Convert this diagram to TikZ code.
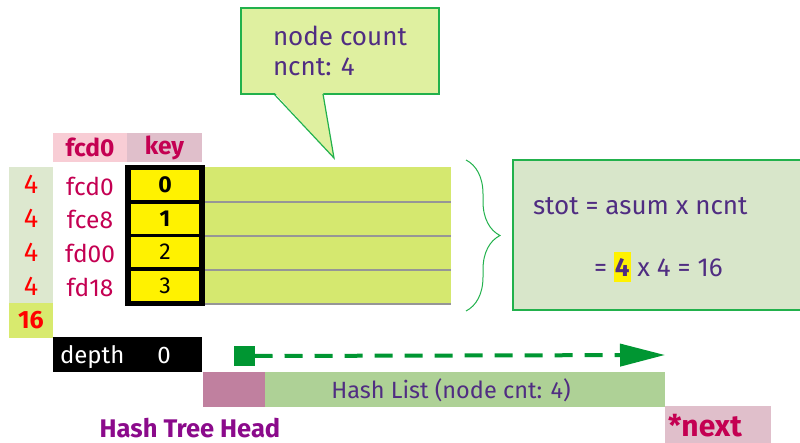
\documentclass[tikz,border=0pt]{standalone}
\usepackage{fontspec}
\setmainfont{Fira Sans}
\usetikzlibrary{decorations.pathreplacing,arrows.meta}

\definecolor{calloutfill}{RGB}{223,240,160}
\definecolor{edgegreen}{RGB}{34,177,76}
\definecolor{inkpurple}{RGB}{80,45,130}
\definecolor{crimson}{RGB}{196,0,82}
\definecolor{hdrpink}{RGB}{248,205,213}
\definecolor{keypink}{RGB}{224,191,203}
\definecolor{palegreen}{RGB}{221,232,207}
\definecolor{limegreen}{RGB}{213,232,111}
\definecolor{sumgreen}{RGB}{216,234,110}
\definecolor{boxgreen}{RGB}{216,230,202}
\definecolor{headmauve}{RGB}{192,128,159}
\definecolor{listgreen}{RGB}{174,209,150}
\definecolor{arrowgreen}{RGB}{0,150,50}
\definecolor{headpurple}{RGB}{139,10,139}
\definecolor{sepgray}{RGB}{150,150,150}

\newcommand{\fsz}[1]{\fontsize{#1}{#1}\selectfont}
\newcommand{\hlbox}[1]{{\setlength{\fboxsep}{0pt}\colorbox{yellow}{\hspace{1pt}\rule[-5pt]{0pt}{30pt}#1\hspace{1pt}}}}

\tikzset{
  blk/.style={rectangle, inner sep=0pt, outer sep=0pt},
  txt/.style={inner sep=0pt, outer sep=0pt},
  purpletxt/.style={txt, text=inkpurple, font=\fsz{26}},
  cnttxt/.style={blk, fill=palegreen, minimum width=44pt, minimum height=34pt,
                 text=red, font=\fsz{27}},
  lbltxt/.style={txt, text=crimson, font=\fsz{24.5}},
  keycell/.style={blk, fill=yellow, draw=black, line width=1.5pt,
                  minimum width=70pt, minimum height=32pt, font=\fsz{23}},
  hdrcell/.style={blk, minimum height=29pt, text=crimson, font=\fsz{24.5}\bfseries},
  sepline/.style={draw=sepgray, line width=2pt},
}

\begin{document}
\begin{tikzpicture}[x=1pt, y=-1pt]
\useasboundingbox (0,0) rectangle (800,443);

% callout bubble
\node[blk, fill=calloutfill, draw=edgegreen, line width=1.2pt,
      minimum width=198pt, minimum height=86pt] (callout) at (340,51) {};
\fill[calloutfill] (274,92) -- (334,158) -- (323,92) -- cycle;
\draw[edgegreen, line width=1.2pt] (274,94) -- (334,158) -- (323,94);
\node[purpletxt, anchor=base west] (cl1) at (273,46) {node count};
\node[purpletxt, anchor=base west] (cl2) at (273,76) {ncnt: 4};

% header
\node[hdrcell, fill=hdrpink, minimum width=74pt] (hdrfcd) at (90,147.5) {fcd0};
\node[hdrcell, fill=keypink, minimum width=75pt] (hdrkey) at (164.5,147.5) {key};

% counts column
\node[cnttxt] (cnt0) at (31,184) {4};
\node[cnttxt] (cnt1) at (31,218) {4};
\node[cnttxt] (cnt2) at (31,252) {4};
\node[cnttxt] (cnt3) at (31,286) {4};
\node[cnttxt, fill=sumgreen, minimum height=35pt, font=\fsz{25}\bfseries] (csum) at (31,320.5) {16};

% address labels
\node[lbltxt] (lbl0) at (90,186) {fcd0};
\node[lbltxt] (lbl1) at (90,219) {fce8};
\node[lbltxt] (lbl2) at (90,253) {fd00};
\node[lbltxt] (lbl3) at (90,287) {fd18};

% slot area with separators
\node[blk, fill=limegreen, minimum width=246pt, minimum height=137pt] (slots) at (328,235.5) {};
\draw[sepline] (203,202) -- (451,202);
\draw[sepline] (203,236) -- (451,236);
\draw[sepline] (203,270) -- (451,270);
\draw[sepline] (203,304) -- (451,304);

% key cells and frame
\node[keycell, font=\fsz{23}\bfseries] (key0) at (165,185) {0};
\node[keycell, font=\fsz{23}\bfseries] (key1) at (165,219) {1};
\node[keycell] (key2) at (165,252) {2};
\node[keycell] (key3) at (165,286) {3};
\node[blk, draw=black, line width=4pt, minimum width=76pt, minimum height=137pt] (keyframe) at (165,235.5) {};

% brace
\coordinate (braceTop) at (466,160);
\coordinate (braceBot) at (466,311);
\draw[edgegreen, line width=1pt, decorate, decoration={brace, amplitude=34pt}] (braceTop) -- (braceBot);

% formula box
\node[blk, fill=boxgreen, draw=edgegreen, line width=1.2pt,
      minimum width=300pt, minimum height=150pt, anchor=north west] (formula) at (513,160) {};
\node[purpletxt, anchor=base west] (f1) at (533,215) {stot = asum x ncnt};
\node[purpletxt, anchor=base west] (f2) at (594,277) {= \hlbox{\bfseries 4} x 4 = 16};

% depth
\node[blk, fill=black, minimum width=149pt, minimum height=35pt, anchor=north west] (depth) at (53,337) {};
\node[txt, text=white, font=\fsz{24}, anchor=base west] (dlbl) at (60,363) {depth};
\node[txt, text=white, font=\fsz{24}, anchor=base] (dval) at (164,363) {0};

% dashed pointer
\node[blk, fill=arrowgreen, minimum width=21pt, minimum height=20pt] (startsq) at (244,356) {};
\coordinate (arrowEnd) at (665,355);
\draw[arrowgreen, line width=4pt, dash pattern=on 18pt off 12pt,
      -{Triangle[length=45pt, width=22pt]}] (startsq.east) -- (arrowEnd);

% hash list bar
\node[blk, fill=headmauve, minimum width=62pt, minimum height=35pt, anchor=north west] (headcell) at (203,372) {};
\node[blk, fill=listgreen, minimum width=400pt, minimum height=35pt, anchor=north west] (listbar) at (265,372) {};
\node[txt, text=inkpurple, font=\fsz{23.5}] (listlbl) at (451,390) {Hash List (node cnt: 4)};

% next pointer
\node[blk, fill=keypink, minimum width=106pt, minimum height=38pt, anchor=north west] (nextcell) at (665,406) {};
\node[txt, text=crimson, font=\fsz{30}\bfseries, anchor=base west] (nextlbl) at (668,436) {*next};

% caption
\node[txt, text=headpurple, font=\fsz{25.5}\bfseries] (caption) at (190,428) {Hash Tree Head};
\end{tikzpicture}
\end{document}
